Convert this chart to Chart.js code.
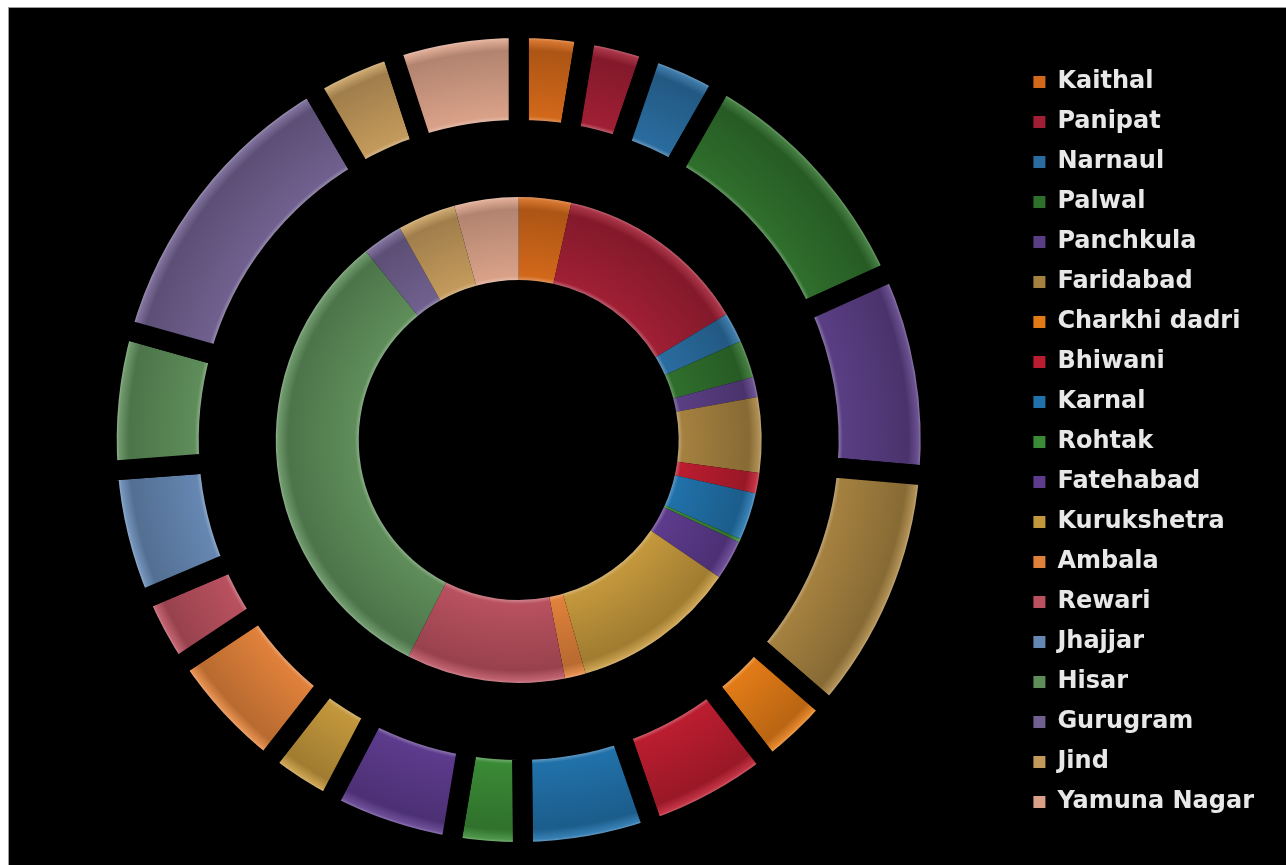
<!DOCTYPE html>
<html>
<head>
<meta charset="utf-8">
<script src="https://cdn.jsdelivr.net/npm/chart.js@4.4.1/dist/chart.umd.min.js"></script>
<style>
  html, body { margin: 0; padding: 0; background: #ffffff; overflow: hidden; }
  #wrap {
    position: absolute; left: 8px; top: 7px; width: 1277px; height: 857px;
    background: #000000; border-left: 1px solid #9a9a9a; border-top: 1px solid #9a9a9a;
  }
</style>
</head>
<body>
<div id="wrap"><canvas id="c"></canvas></div>
<script>
// ---- data ----
const categories = ["Kaithal", "Panipat", "Narnaul", "Palwal", "Panchkula", "Faridabad",
  "Charkhi dadri", "Bhiwani", "Karnal", "Rohtak", "Fatehabad", "Kurukshetra", "Ambala",
  "Rewari", "Jhajjar", "Hisar", "Gurugram", "Jind", "Yamuna Nagar"];

// outer ring (exploded)
const outerValues = [9.4, 9.5, 10.8, 36.0, 29.3, 35.9, 11.4, 18.6, 18.5, 10.1,
  18.2, 10.3, 18.4, 10.6, 18.7, 20.0, 43.9, 12.3, 18.1];

// inner ring
const innerValues = [12.5, 46.3, 7.2, 9.0, 4.8, 18.0, 0, 4.9, 11.4, 0.8,
  9.5, 39.6, 5.0, 38.0, 0, 114.0, 9.7, 13.9, 15.4];

const sliceColors = ["#d2681a", "#a01f34", "#2a6c9f", "#2f6f2c", "#5a3e84", "#a58140",
  "#e27b17", "#bb1d30", "#2171aa", "#3a8a36", "#5d3b8d", "#c3973c", "#e0813b",
  "#b9515f", "#6587b2", "#5e8d5a", "#70608f", "#c39a5c", "#d9a188"];

const gapColor = "#000000";
const legendTextColor = "#e8e8e8";
const outerGap = 20;

function shade(hex, amt) {
  const n = parseInt(hex.slice(1), 16);
  let r = (n >> 16) & 255, g = (n >> 8) & 255, b = n & 255;
  const t = amt > 0 ? 255 : 0, a = Math.abs(amt);
  r = Math.round(r + (t - r) * a); g = Math.round(g + (t - g) * a); b = Math.round(b + (t - b) * a);
  return "rgb(" + r + "," + g + "," + b + ")";
}

function bevel(c) {
  const base = sliceColors[c.dataIndex % sliceColors.length];
  const chart = c.chart, area = chart.chartArea;
  if (!area || c.type !== "data") return base;
  const ctrl = chart.getDatasetMeta(c.datasetIndex).controller;
  let r0 = ctrl.innerRadius, r1 = ctrl.outerRadius;
  if (!(r1 > 0) || !(r1 > r0)) return base;
  if (c.datasetIndex === 0) { r0 += outerGap / 2; r1 -= outerGap / 2; }
  const cx = (area.left + area.right) / 2 + (ctrl.offsetX || 0);
  const cy = (area.top + area.bottom) / 2 + (ctrl.offsetY || 0);
  const g = chart.ctx.createRadialGradient(cx, cy, r0, cx, cy, r1);
  g.addColorStop(0, shade(base, 0.28));
  g.addColorStop(0.05, base);
  g.addColorStop(0.85, shade(base, -0.18));
  g.addColorStop(0.97, shade(base, 0.1));
  g.addColorStop(1, shade(base, 0.3));
  return g;
}

const ctx = document.getElementById("c").getContext("2d");

new Chart(ctx, {
  type: "doughnut",
  data: {
    labels: categories,
    datasets: [
      {
        label: "outer",
        data: outerValues,
        backgroundColor: bevel,
        borderColor: gapColor,
        borderWidth: outerGap,
        hoverBorderWidth: outerGap,
        borderJoinStyle: "miter",
        weight: 102,
        hoverOffset: 0
      },
      {
        label: "spacer",
        data: [1],
        backgroundColor: "rgba(0,0,0,0)",
        borderWidth: 0,
        weight: 67,
        hoverOffset: 0
      },
      {
        label: "inner",
        data: innerValues,
        backgroundColor: bevel,
        borderWidth: 0,
        weight: 83,
        hoverOffset: 0
      }
    ]
  },
  options: {
    responsive: true,
    maintainAspectRatio: false,
    animation: false,
    cutout: "38.83%",
    layout: { padding: { top: 10, bottom: 3, left: 11, right: 22 } },
    plugins: {
      tooltip: { enabled: false },
      legend: {
        position: "right",
        title: { display: true, text: " ", padding: 0, font: { size: 4, lineHeight: 1 } },
        labels: {
          boxWidth: 12,
          boxHeight: 12,
          padding: 16,
          color: legendTextColor,
          font: { family: "'DejaVu Sans', Verdana, sans-serif", size: 24, weight: "bold" },
          generateLabels: (chart) => chart.data.labels.map((t, i) => ({
            text: t,
            fillStyle: sliceColors[i],
            strokeStyle: sliceColors[i],
            lineWidth: 0,
            fontColor: legendTextColor,
            hidden: false,
            index: i
          }))
        }
      }
    }
  }
});
</script>
</body>
</html>
